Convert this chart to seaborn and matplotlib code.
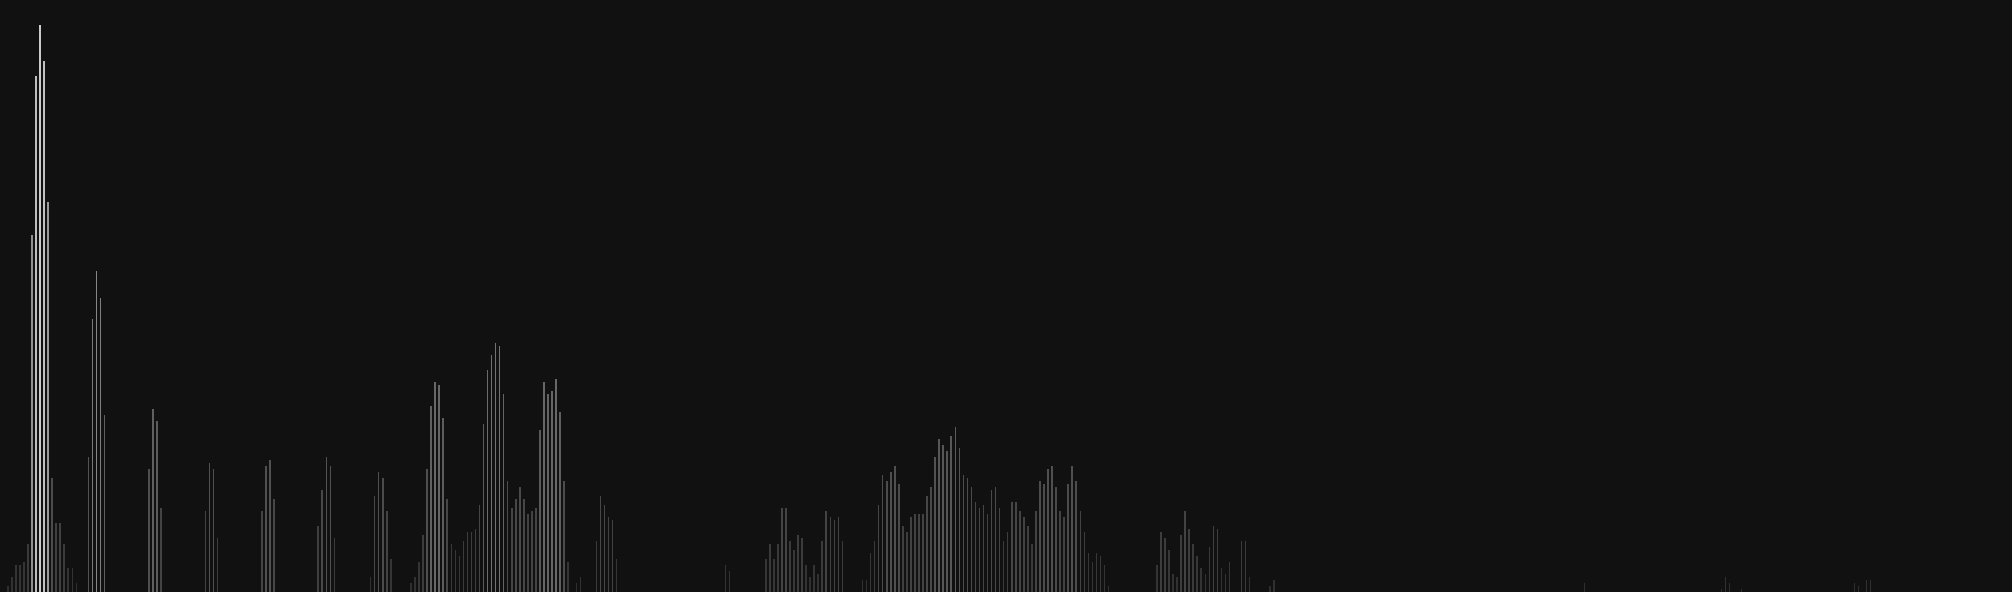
import matplotlib
matplotlib.use("Agg")
import matplotlib.pyplot as plt
import seaborn as sns
import pandas as pd

# spectrum bins (bar index) where each run of non-zero bars starts
run_starts = [1, 21, 36, 50, 64, 78, 91, 101, 142, 147, 179, 189, 213,
              286, 307, 314, 392, 426, 431, 459, 462]

# bar levels for every run (in pixels of a 592 px tall canvas)
run_01 = [6, 15, 27, 27, 30, 48, 357, 516, 567, 531, 390, 114, 69, 69, 48, 24, 24, 9]
run_21 = [135, 273, 321, 294, 177]
run_36 = [123, 183, 171, 84]
run_50 = [81, 129, 123, 54]
run_64 = [81, 126, 132, 93]
run_78 = [66, 102, 135, 126, 54]
run_91 = [15, 96, 120, 114, 81, 33]
run_101 = [9, 15, 30, 57, 123, 186, 210, 207, 174, 93, 48, 42, 36, 51, 60, 60, 63, 87,
           168, 222, 237, 249, 246, 198, 111, 84, 93, 105, 93, 78, 81, 84, 162, 210,
           198, 201, 213, 180, 111, 30]
run_142 = [9, 15]
run_147 = [51, 96, 87, 75, 72, 33]
run_179 = [27, 21]
run_189 = [33, 48, 33, 48, 84, 84, 51, 42, 57, 54, 27, 15, 27, 18, 51, 81, 75, 72, 75, 51]
run_213 = [12, 12, 39, 51, 87, 117, 111, 120, 126, 108, 66, 60, 75, 78, 78, 78, 96, 105,
           135, 153, 147, 141, 156, 165, 144, 117, 114, 105, 90, 84, 87, 78, 102, 105,
           84, 51, 60, 90, 90, 81, 75, 66, 48, 81, 111, 108, 123, 126, 105, 81, 75, 108,
           126, 111, 81, 60, 39, 30, 39, 36, 27, 6]
run_286 = [27, 60, 54, 42, 18, 15, 57, 81, 63, 48, 36, 24, 18, 45, 66, 63, 24, 18, 30]
run_307 = [51, 51, 15]
run_314 = [6, 12]
run_392 = [9]
run_426 = [3, 15, 9]
run_431 = [3]
run_459 = [9, 6]
run_462 = [12, 12]

runs = [run_01, run_21, run_36, run_50, run_64, run_78, run_91, run_101, run_142,
        run_147, run_179, run_189, run_213, run_286, run_307, run_314, run_392,
        run_426, run_431, run_459, run_462]

N_BINS = 499
BG = "#111111"


def bar_gray(level):
    """taller bars are drawn brighter"""
    v = min(255, int(45 + 0.28 * level))
    return "#{0:02x}{0:02x}{0:02x}".format(v)


rows = []
for start, vals in zip(run_starts, runs):
    for i, v in enumerate(vals):
        rows.append((start + i, v))
df = pd.DataFrame(rows, columns=["bin", "level"])
palette = {b: bar_gray(v) for b, v in zip(df["bin"], df["level"])}

sns.set_style("dark", {"axes.facecolor": BG, "figure.facecolor": BG})
fig = plt.figure(figsize=(20.12, 5.92), dpi=100)
fig.patch.set_facecolor(BG)
ax = fig.add_axes([0, 0, 1, 1])
ax.set_facecolor(BG)

sns.barplot(data=df, x="bin", y="level", hue="bin", palette=palette,
            native_scale=True, dodge=False, width=0.38, linewidth=0,
            errorbar=None, legend=False, ax=ax)

# bar k is centred at about 3.7 + 4.032 * k pixels
ax.set_xlim(-0.923, -0.923 + N_BINS)
ax.set_ylim(0, 592)
ax.axis("off")

fig.savefig("out.png", dpi=100, facecolor=BG)
